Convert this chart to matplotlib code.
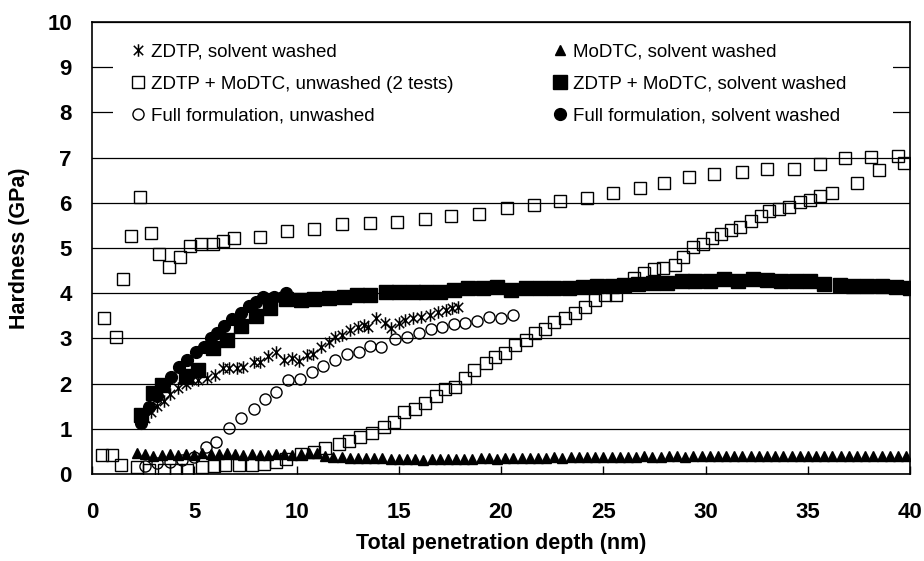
import matplotlib
matplotlib.use("Agg")
import matplotlib.pyplot as plt
from matplotlib.path import Path
from matplotlib.patches import Rectangle

plt.rcParams["font.family"] = ["Liberation Sans", "DejaVu Sans"]

# ZDTP, solvent washed (asterisks)
zdtp_x = [2.6, 2.9, 3.2, 3.5, 3.8, 4.2, 4.6, 4.9, 5.2, 5.6, 6.0, 6.4, 6.7, 7.1, 7.4,
          7.9, 8.2, 8.6, 9.0, 9.4, 9.8, 10.1, 10.5, 10.8, 11.2, 11.6, 11.9, 12.2, 12.6,
          13.0, 13.3, 13.5, 13.9, 14.3, 14.6, 15.0, 15.3, 15.7, 16.1, 16.5, 16.9, 17.3,
          17.6, 17.9]
zdtp_y = [1.25, 1.38, 1.5, 1.62, 1.78, 1.9, 2.0, 2.08, 2.08, 2.12, 2.2, 2.34, 2.34, 2.34,
          2.36, 2.48, 2.48, 2.6, 2.7, 2.52, 2.56, 2.5, 2.63, 2.65, 2.8, 2.93, 3.04, 3.08,
          3.19, 3.26, 3.3, 3.26, 3.44, 3.33, 3.22, 3.33, 3.4, 3.44, 3.48, 3.52, 3.59, 3.63,
          3.67, 3.7]

# MoDTC, solvent washed (filled triangles)
modtc_x = [2.2, 2.6, 3.0, 3.4, 3.8, 4.2, 4.6, 5.0, 5.4, 5.8,
           6.2, 6.6, 7.0, 7.4, 7.8, 8.2, 8.6, 9.0, 9.4, 9.8,
           10.2, 10.6, 11.0, 11.4, 11.8, 12.2, 12.6, 13.0, 13.4, 13.8,
           14.2, 14.6, 15.0, 15.4, 15.8, 16.2, 16.6, 17.0, 17.4, 17.8,
           18.2, 18.6, 19.0, 19.4, 19.8, 20.2, 20.6, 21.0, 21.4, 21.8,
           22.2, 22.6, 23.0, 23.4, 23.8, 24.2, 24.6, 25.0, 25.4, 25.8,
           26.2, 26.6, 27.0, 27.4, 27.8, 28.2, 28.6, 29.0, 29.4, 29.8,
           30.2, 30.6, 31.0, 31.4, 31.8, 32.2, 32.6, 33.0, 33.4, 33.8,
           34.2, 34.6, 35.0, 35.4, 35.8, 36.2, 36.6, 37.0, 37.4, 37.8,
           38.2, 38.6, 39.0, 39.4, 39.8]
modtc_y = [0.46, 0.44, 0.40, 0.43, 0.45, 0.42, 0.44, 0.43, 0.47, 0.45,
           0.44, 0.47, 0.45, 0.43, 0.44, 0.42, 0.43, 0.45, 0.44, 0.43,
           0.45, 0.47, 0.46, 0.40, 0.38, 0.37, 0.36, 0.36, 0.35, 0.36,
           0.35, 0.34, 0.34, 0.33, 0.33, 0.32, 0.33, 0.33, 0.34, 0.33,
           0.34, 0.34, 0.35, 0.35, 0.34, 0.35, 0.36, 0.35, 0.36, 0.36,
           0.36, 0.37, 0.36, 0.37, 0.37, 0.38, 0.37, 0.37, 0.38, 0.38,
           0.38, 0.38, 0.39, 0.38, 0.38, 0.39, 0.39, 0.38, 0.39, 0.39,
           0.39, 0.39, 0.40, 0.39, 0.39, 0.40, 0.39, 0.40, 0.40, 0.39,
           0.40, 0.40, 0.39, 0.40, 0.40, 0.41, 0.40, 0.40, 0.40, 0.41,
           0.40, 0.41, 0.40, 0.41, 0.41]

# ZDTP + MoDTC, unwashed - test A (upper) and test B (lower)
zm_a_x = [0.59, 1.16, 1.51, 1.92, 2.35, 2.87, 3.27, 3.76, 4.3, 4.77, 5.34, 5.9, 6.4,
          6.94, 8.2, 9.55, 10.85, 12.2, 13.57, 14.9, 16.27, 17.56, 18.94, 20.3, 21.6,
          22.86, 24.2, 25.47, 26.77, 27.98, 29.2, 30.4, 31.77, 33.0, 34.3, 35.6, 36.8,
          38.1, 39.4]
zm_a_y = [3.46, 3.04, 4.31, 5.27, 6.12, 5.34, 4.86, 4.57, 4.8, 5.04, 5.09, 5.09, 5.15,
          5.21, 5.25, 5.37, 5.43, 5.52, 5.55, 5.58, 5.64, 5.71, 5.75, 5.88, 5.94, 6.04,
          6.11, 6.22, 6.33, 6.43, 6.56, 6.64, 6.68, 6.74, 6.75, 6.85, 6.98, 7.01, 7.04]
zm_b_x = [0.5, 1.0, 1.43, 2.2, 2.8, 3.5, 4.1, 4.66, 5.4, 5.96, 6.5, 7.2, 7.8, 8.4, 9.0,
          9.5, 10.2, 10.85, 11.4, 12.07, 12.55, 13.1, 13.7, 14.26, 14.75, 15.24, 15.8,
          16.3, 16.8, 17.28, 17.77, 18.26, 18.7, 19.28, 19.7, 20.2, 20.66, 21.2, 21.67,
          22.16, 22.6, 23.14, 23.6, 24.08, 24.6, 25.1, 25.6, 26.0, 26.5, 26.97, 27.5,
          27.9, 28.5, 28.9, 29.4, 29.87, 30.3, 30.76, 31.24, 31.7, 32.2, 32.7, 33.1,
          33.6, 34.1, 34.6, 35.1, 35.57, 36.2, 37.4, 38.5, 39.7]
zm_b_y = [0.43, 0.42, 0.2, 0.15, 0.1, 0.09, 0.09, 0.1, 0.15, 0.18, 0.2, 0.2, 0.2, 0.22,
          0.26, 0.33, 0.44, 0.49, 0.58, 0.67, 0.74, 0.83, 0.91, 1.05, 1.16, 1.38, 1.43,
          1.58, 1.73, 1.87, 1.93, 2.13, 2.29, 2.45, 2.58, 2.68, 2.85, 2.96, 3.13, 3.21,
          3.36, 3.44, 3.57, 3.7, 3.85, 3.96, 3.96, 4.16, 4.33, 4.45, 4.53, 4.55, 4.62,
          4.8, 5.02, 5.09, 5.21, 5.31, 5.4, 5.47, 5.6, 5.71, 5.82, 5.86, 5.91, 6.02,
          6.06, 6.15, 6.22, 6.43, 6.72, 6.87]

# ZDTP + MoDTC, solvent washed (filled squares)
zmw_x = [2.4, 3.0, 3.4, 4.6, 5.2, 5.9, 6.6, 7.3, 8.0, 8.7, 9.5, 10.2, 10.85, 11.6, 12.3,
         12.97, 13.6, 14.35, 15.0, 15.7, 16.35, 17.0, 17.7, 18.4, 19.1, 19.8, 20.5, 21.2,
         21.9, 22.6, 23.3, 24.0, 24.7, 25.4, 26.0, 26.7, 27.45, 28.1, 28.85, 29.5, 30.2,
         30.9, 31.6, 32.3, 33.0, 33.7, 34.4, 35.1, 35.8, 36.55, 37.2, 37.9, 38.6, 39.3,
         40.0]
zmw_y = [1.31, 1.8, 1.97, 2.17, 2.3, 2.78, 2.97, 3.28, 3.5, 3.68, 3.87, 3.86, 3.88, 3.9,
         3.92, 3.95, 3.96, 4.02, 4.03, 4.02, 4.03, 4.03, 4.07, 4.12, 4.12, 4.13, 4.07,
         4.12, 4.12, 4.12, 4.12, 4.13, 4.16, 4.16, 4.18, 4.2, 4.22, 4.23, 4.28, 4.27,
         4.27, 4.31, 4.28, 4.31, 4.29, 4.28, 4.28, 4.28, 4.2, 4.18, 4.16, 4.16, 4.16,
         4.13, 4.11]

# Full formulation, unwashed (open circles)
ff_x = [2.6, 3.2, 3.8, 4.4, 5.0, 5.55, 6.05, 6.7, 7.3, 7.9, 8.45, 9.0, 9.6, 10.16,
        10.77, 11.3, 11.9, 12.48, 13.04, 13.6, 14.15, 14.8, 15.4, 16.0, 16.55, 17.1,
        17.7, 18.26, 18.8, 19.43, 20.0, 20.6]
ff_y = [0.18, 0.24, 0.26, 0.32, 0.38, 0.6, 0.71, 1.01, 1.25, 1.44, 1.66, 1.82, 2.07,
        2.11, 2.26, 2.4, 2.53, 2.65, 2.71, 2.83, 2.8, 2.98, 3.04, 3.13, 3.2, 3.26, 3.32,
        3.34, 3.39, 3.47, 3.44, 3.52]

# Full formulation, solvent washed (filled circles)
ffw_x = [2.38, 2.79, 3.2, 3.52, 3.85, 4.25, 4.66, 5.07, 5.47, 5.8, 6.13, 6.45, 6.86,
         7.26, 7.67, 8.0, 8.37, 8.9, 9.5]
ffw_y = [1.12, 1.49, 1.73, 1.98, 2.15, 2.36, 2.52, 2.71, 2.82, 3.0, 3.13, 3.27, 3.42,
         3.57, 3.72, 3.8, 3.91, 3.91, 4.0]

# Excel-style asterisk: vertical bar plus an X
star = Path([(0, -1), (0, 1), (-0.75, -0.75), (0.75, 0.75), (-0.75, 0.75), (0.75, -0.75)],
            [Path.MOVETO, Path.LINETO] * 3)

fig = plt.figure(figsize=(9.24, 5.61), dpi=100)
ax = fig.add_axes([0.0996, 0.155, 0.8854, 0.806])

h_zdtp, = ax.plot(zdtp_x, zdtp_y, ls="none", marker=star, ms=9, mew=1.1, color="black",
                  label="ZDTP, solvent washed", zorder=4)
h_modtc, = ax.plot(modtc_x, modtc_y, ls="none", marker="^", ms=7.8, color="black",
                   label="MoDTC, solvent washed", zorder=3)
h_zm, = ax.plot(zm_a_x, zm_a_y, ls="none", marker="s", ms=8, mfc="none", mec="black",
                mew=1.0, label="ZDTP + MoDTC, unwashed (2 tests)", zorder=3)
ax.plot(zm_b_x, zm_b_y, ls="none", marker="s", ms=8, mfc="none", mec="black", mew=1.0,
        zorder=3)
h_zmw, = ax.plot(zmw_x, zmw_y, ls="none", marker="s", ms=9.5, color="black",
                 label="ZDTP + MoDTC, solvent washed", zorder=3)
h_ff, = ax.plot(ff_x, ff_y, ls="none", marker="o", ms=8, mfc="none", mec="black",
                mew=1.0, label="Full formulation, unwashed", zorder=4)
h_ffw, = ax.plot(ffw_x, ffw_y, ls="none", marker="o", ms=8.5, color="black",
                 label="Full formulation, solvent washed", zorder=5)

ax.set_xlim(0, 40)
ax.set_ylim(0, 10)
ax.set_xticks(range(0, 41, 5))
ax.set_yticks(range(0, 11))
ax.set_axisbelow(True)
ax.yaxis.grid(True, color="black", lw=0.9)
ax.tick_params(axis="x", direction="in", length=6, width=1, pad=20, labelsize=16)
ax.tick_params(axis="y", direction="in", length=0, pad=14.5, labelsize=16)
for lab in ax.get_xticklabels() + ax.get_yticklabels():
    lab.set_fontweight("bold")
for s in ax.spines.values():
    s.set_linewidth(1.2)
    s.set_color("black")

ax.set_xlabel("Total penetration depth (nm)", fontsize=15.5, fontweight="bold", labelpad=7)
ax.set_ylabel("Hardness (GPa)", fontsize=15.5, fontweight="bold", labelpad=12)

# white block behind the legend hides the upper gridlines
ax.add_patch(Rectangle((0.026, 0.74), 0.953, 0.245, transform=ax.transAxes,
                       facecolor="white", edgecolor="none", zorder=1))

kw = dict(frameon=False, fontsize=13.5, handlelength=0.8, handletextpad=0.3,
          borderpad=0, borderaxespad=0, labelspacing=0.8, loc="upper left")
leg1 = ax.legend(handles=[h_zdtp, h_zm, h_ff], bbox_to_anchor=(0.047, 0.952), **kw)
ax.add_artist(leg1)
ax.legend(handles=[h_modtc, h_zmw, h_ffw], bbox_to_anchor=(0.563, 0.952), **kw)

fig.savefig("out.png", dpi=100)
